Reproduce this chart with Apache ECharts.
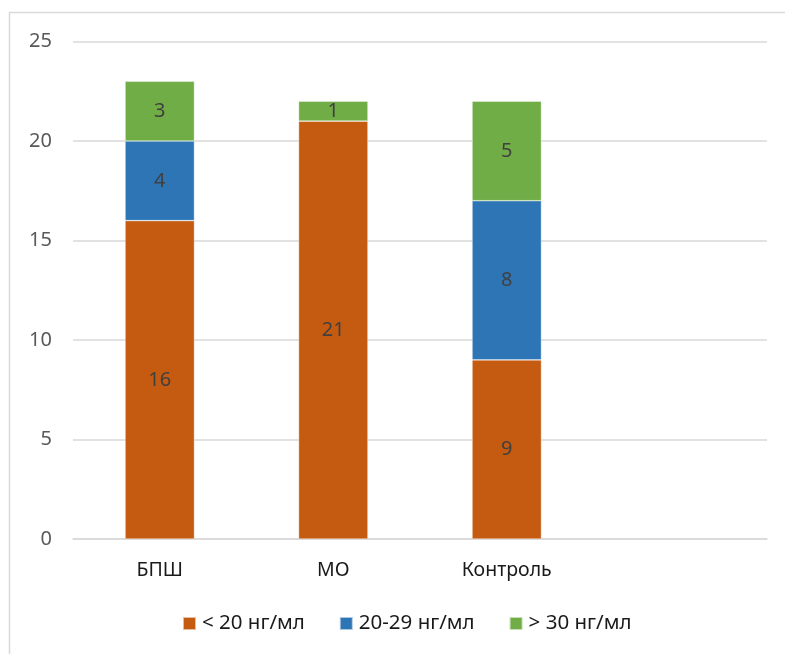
<!DOCTYPE html>
<html>
<head>
<meta charset="utf-8">
<script src="https://cdn.jsdelivr.net/npm/echarts@6/dist/echarts.min.js"></script>
<style>
  html, body { margin: 0; padding: 0; background: #fff; }
  #chart { width: 785px; height: 654px; }
</style>
</head>
<body>
<div id="chart"></div>
<script>
// Groups along the x axis (the fourth slot is left empty)
const categories = ['БПШ', 'МО', 'Контроль', ''];
// Counts per vitamin D level
const below20 = [16, 21, 9, null];
const from20to29 = [4, null, 8, null];
const above30 = [3, 1, 5, null];
const seriesNames = ['< 20 нг/мл', '20-29 нг/мл', '> 30 нг/мл'];
const seriesColors = ['#C55A11', '#2E75B6', '#70AD47'];
const yTicks = { min: 0, max: 25, interval: 5 };

const FONT = 'Noto Sans';

function makeSeries(name, data, color) {
  return {
    name: name,
    type: 'bar',
    stack: 'total',
    data: data,
    barWidth: '40%',
    itemStyle: { color: color, borderColor: 'rgba(255,255,255,0.6)', borderWidth: 0.6 },
    label: {
      show: true,
      position: 'inside',
      color: '#404040',
      fontFamily: FONT,
      fontSize: 20,
      formatter: p => (p.value == null ? '' : String(p.value))
    }
  };
}

const chart = echarts.init(document.getElementById('chart'), null, { renderer: 'canvas' });
chart.setOption({
  animation: false,
  backgroundColor: '#fff',
  graphic: [{
    type: 'rect',
    shape: { x: 9.5, y: 12.5, width: 800, height: 700 },
    style: { fill: 'none', stroke: '#d9d9d9', lineWidth: 1.5 },
    silent: true,
    z: -1
  }],
  grid: { left: 73, right: 18, top: 41.5, bottom: 115 },
  legend: {
    data: seriesNames,
    bottom: 20,
    left: 182,
    padding: 0,
    itemWidth: 13,
    itemHeight: 13,
    itemGap: 34,
    icon: 'rect',
    textStyle: { fontFamily: FONT, fontSize: 20.5, color: '#1a1a1a', padding: [0, 0, 0, 1] }
  },
  xAxis: {
    type: 'category',
    data: categories,
    axisLine: { lineStyle: { color: '#d9d9d9', width: 1.5 } },
    axisTick: { show: false },
    axisLabel: { fontFamily: FONT, fontSize: 19.5, color: '#1a1a1a', margin: 21 }
  },
  yAxis: {
    type: 'value',
    min: yTicks.min,
    max: yTicks.max,
    interval: yTicks.interval,
    axisLine: { show: false },
    axisTick: { show: false },
    splitLine: { lineStyle: { color: '#d9d9d9', width: 1.5 } },
    axisLabel: { fontFamily: FONT, fontSize: 20, color: '#595959', margin: 21 }
  },
  series: [
    makeSeries(seriesNames[0], below20, seriesColors[0]),
    makeSeries(seriesNames[1], from20to29, seriesColors[1]),
    makeSeries(seriesNames[2], above30, seriesColors[2])
  ]
});
</script>
</body>
</html>
